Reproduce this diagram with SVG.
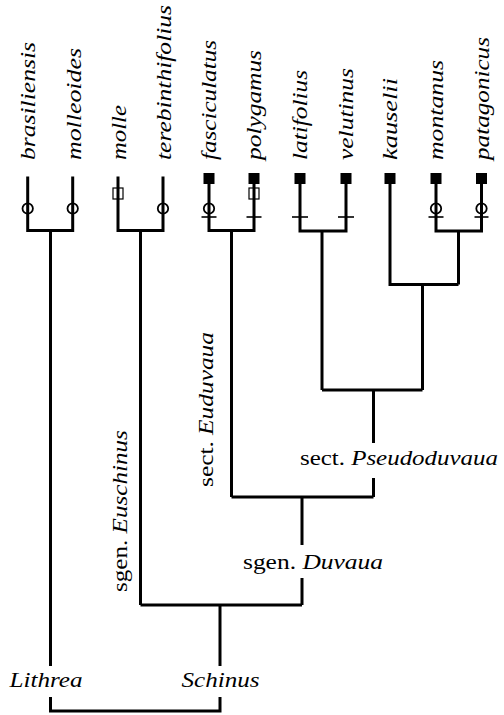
<svg xmlns="http://www.w3.org/2000/svg" width="504" height="715" viewBox="0 0 504 715">
<style>
text{font-family:"Liberation Serif","Times New Roman",serif;font-size:22px;fill:#000}
.i{font-style:italic}
.br{fill:none;stroke:#000;stroke-width:3;stroke-linejoin:miter;stroke-linecap:butt}
.circ{fill:none;stroke:#000;stroke-width:1.8}
.osq{fill:none;stroke:#000;stroke-width:1.2}
.fsq{fill:#000}
.bar{stroke:#000;stroke-width:1.6}
</style>
<rect width="504" height="715" fill="#fff"/>
<g id="connectors">
<path class="br" d="M27.7,176.5V230.5H72.7V176.5"/>
<path class="br" d="M50.5,230.5V666"/>
<path class="br" d="M118,176.5V230.5H163V176.5"/>
<path class="br" d="M140.5,230.5V605"/>
<path class="br" d="M209,182V230.5H254V182"/>
<path class="br" d="M231.5,230.5V497"/>
<path class="br" d="M300,182V231H346V182"/>
<path class="br" d="M322,231V390"/>
<path class="br" d="M436,182V231H481.5V182"/>
<path class="br" d="M458.5,231V284.5"/>
<path class="br" d="M390,182V284.5H458.5"/>
<path class="br" d="M422.5,284.5V390"/>
<path class="br" d="M322,390H422.5"/>
<path class="br" d="M373.5,390V443M373.5,478V497"/>
<path class="br" d="M231.5,497H373.5"/>
<path class="br" d="M302,497V545M302,578V605"/>
<path class="br" d="M140.5,605H302"/>
<path class="br" d="M220,605V666"/>
<path class="br" d="M50.5,697V711H220V697"/>
</g>
<g id="brasiliensis">
<text class="i" transform="translate(35,160) rotate(-90)" textLength="118" lengthAdjust="spacingAndGlyphs">brasiliensis</text>
<circle class="circ" cx="27.7" cy="208.5" r="5.2"/>
</g>
<g id="molleoides">
<text class="i" transform="translate(80.5,160) rotate(-90)" textLength="112" lengthAdjust="spacingAndGlyphs">molleoides</text>
<circle class="circ" cx="72.7" cy="208.5" r="5.2"/>
</g>
<g id="molle">
<text class="i" transform="translate(125.5,160) rotate(-90)" textLength="55" lengthAdjust="spacingAndGlyphs">molle</text>
<rect class="osq" x="113" y="188" width="10" height="11"/>
</g>
<g id="terebinthifolius">
<text class="i" transform="translate(170.5,160) rotate(-90)" textLength="155" lengthAdjust="spacingAndGlyphs">terebinthifolius</text>
<circle class="circ" cx="163" cy="208.5" r="5.2"/>
</g>
<g id="fasciculatus">
<text class="i" transform="translate(216,160) rotate(-90)" textLength="120" lengthAdjust="spacingAndGlyphs">fasciculatus</text>
<rect class="fsq" x="203.5" y="173" width="11" height="11"/>
<circle class="circ" cx="209" cy="208.5" r="5.2"/>
<line class="bar" x1="201.5" y1="217" x2="216.5" y2="217"/>
</g>
<g id="polygamus">
<text class="i" transform="translate(261,160) rotate(-90)" textLength="110" lengthAdjust="spacingAndGlyphs">polygamus</text>
<rect class="fsq" x="248.5" y="173" width="11" height="11"/>
<rect class="osq" x="249" y="188" width="10" height="11"/>
<line class="bar" x1="246.5" y1="217" x2="261.5" y2="217"/>
</g>
<g id="latifolius">
<text class="i" transform="translate(307,160) rotate(-90)" textLength="90" lengthAdjust="spacingAndGlyphs">latifolius</text>
<rect class="fsq" x="294.5" y="173" width="11" height="11"/>
<line class="bar" x1="292" y1="217" x2="308" y2="217"/>
</g>
<g id="velutinus">
<text class="i" transform="translate(353,160) rotate(-90)" textLength="92" lengthAdjust="spacingAndGlyphs">velutinus</text>
<rect class="fsq" x="340.5" y="173" width="11" height="11"/>
<line class="bar" x1="338" y1="217" x2="354" y2="217"/>
</g>
<g id="kauselii">
<text class="i" transform="translate(397,160) rotate(-90)" textLength="82" lengthAdjust="spacingAndGlyphs">kauselii</text>
<rect class="fsq" x="384.5" y="173" width="11" height="11"/>
</g>
<g id="montanus">
<text class="i" transform="translate(443,160) rotate(-90)" textLength="100" lengthAdjust="spacingAndGlyphs">montanus</text>
<rect class="fsq" x="430.5" y="173" width="11" height="11"/>
<circle class="circ" cx="436" cy="208.5" r="5.2"/>
<line class="bar" x1="428.5" y1="217" x2="443.5" y2="217"/>
</g>
<g id="patagonicus">
<text class="i" transform="translate(488.5,160) rotate(-90)" textLength="123" lengthAdjust="spacingAndGlyphs">patagonicus</text>
<rect class="fsq" x="476" y="173" width="11" height="11"/>
<circle class="circ" cx="481.5" cy="208.5" r="5.2"/>
<line class="bar" x1="474.5" y1="217" x2="488.5" y2="217"/>
</g>
<g id="sgen-euschinus" transform="translate(127,592) rotate(-90)">
<text x="0" y="0" textLength="52.3" lengthAdjust="spacingAndGlyphs">sgen.</text>
<text class="i" x="58.6" y="0" textLength="103.3" lengthAdjust="spacingAndGlyphs">Euschinus</text>
</g>
<g id="sect-euduvaua" transform="translate(212.5,487) rotate(-90)">
<text x="0" y="0" textLength="45.8" lengthAdjust="spacingAndGlyphs">sect.</text>
<text class="i" x="52.1" y="0" textLength="102.9" lengthAdjust="spacingAndGlyphs">Euduvaua</text>
</g>
<g id="sect-pseudoduvaua">
<text x="300" y="465" textLength="45" lengthAdjust="spacingAndGlyphs">sect.</text>
<text class="i" x="351.2" y="465" textLength="146.8" lengthAdjust="spacingAndGlyphs">Pseudoduvaua</text>
</g>
<g id="sgen-duvaua">
<text x="243" y="569" textLength="53" lengthAdjust="spacingAndGlyphs">sgen.</text>
<text class="i" x="302.4" y="569" textLength="80.6" lengthAdjust="spacingAndGlyphs">Duvaua</text>
</g>
<g id="lithrea">
<text class="i" x="9.5" y="687" textLength="73" lengthAdjust="spacingAndGlyphs">Lithrea</text>
</g>
<g id="schinus">
<text class="i" x="181.5" y="687" textLength="78" lengthAdjust="spacingAndGlyphs">Schinus</text>
</g>
</svg>
